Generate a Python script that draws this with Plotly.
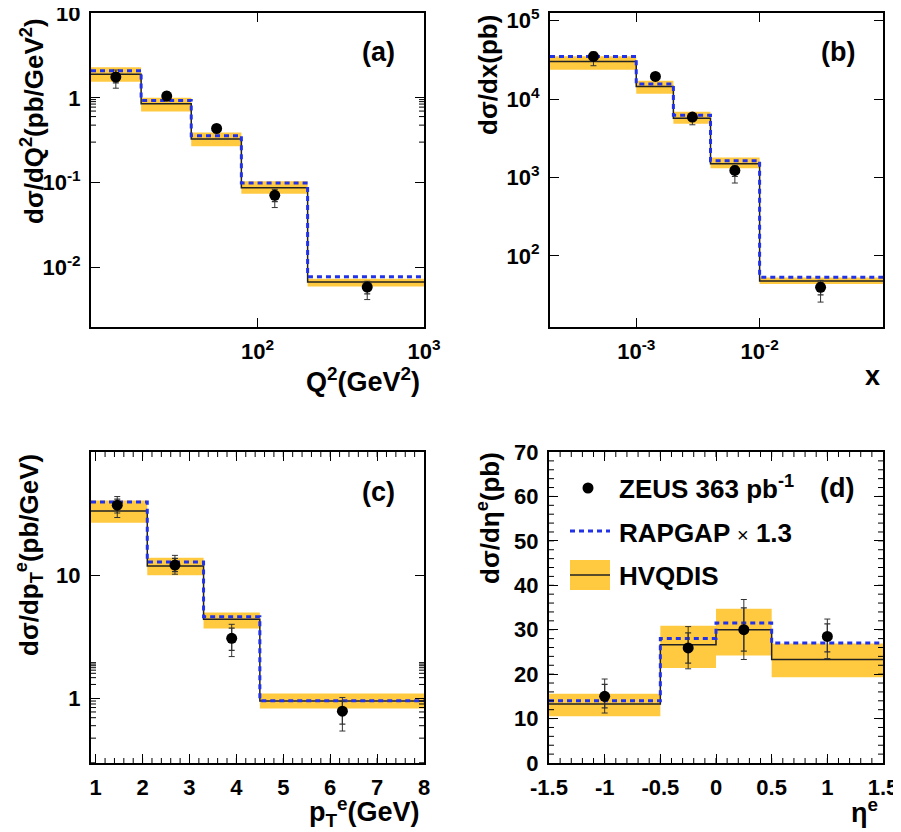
import math
import plotly.graph_objects as go

# page is 901x832; the HTML body has an 8px default margin, so the figure starts at (8, 8)
OFF = 8
FW, FH = 901 - OFF, 832 - OFF
FONT = "Liberation Sans, Arial, sans-serif"
BAND = "#FFC940"
BLUE = "#2232E6"

# ---------------- data ----------------
# (a) d sigma / dQ^2
a_edges = [10, 20, 40, 80, 200, 1000]
a_x = [14.1, 28.5, 56.8, 127, 456]
a_y = [1.76, 1.05, 0.436, 0.071, 0.0059]
a_tot_up = [0.37, 0.13, 0.05, 0.0126, 0.0010]
a_tot_dn = [0.46, 0.13, 0.05, 0.020, 0.0017]
a_stat_up = [0.22, 0.08, 0.03, 0.008, 0.0007]
a_stat_dn = [0.26, 0.08, 0.03, 0.011, 0.0010]
a_hvq = [1.9, 0.85, 0.327, 0.0873, 0.00678]
a_hvq_lo = [1.55, 0.69, 0.27, 0.074, 0.0060]
a_hvq_hi = [2.3, 1.0, 0.39, 0.104, 0.0074]
a_rap = [2.09, 0.93, 0.358, 0.099, 0.0078]

# (b) d sigma / dx
b_edges = [2e-4, 1e-3, 2e-3, 4e-3, 1e-2, 0.1]
b_x = [4.5e-4, 1.43e-3, 2.85e-3, 6.3e-3, 0.0312]
b_y = [3.49e4, 1.94e4, 5.9e3, 1.23e3, 39.8]
b_tot_up = [5100, 1500, 600, 180, 9]
b_tot_dn = [8300, 1500, 1200, 380, 14]
b_stat_up = [3000, 900, 350, 110, 6]
b_stat_dn = [4500, 900, 600, 200, 8]
b_hvq = [3.02e4, 1.45e4, 5.7e3, 1.5e3, 48]
b_hvq_lo = [2.36e4, 1.17e4, 4.84e3, 1.31e3, 44]
b_hvq_hi = [3.5e4, 1.71e4, 6.9e3, 1.8e3, 53]
b_rap = [3.49e4, 1.55e4, 6.2e3, 1.63e3, 53.6]

# (c) d sigma / dpT^e
c_edges = [0.9, 2.1, 3.3, 4.5, 8.0]
c_x = [1.46, 2.69, 3.9, 6.26]
c_y = [37.0, 12.1, 3.08, 0.79]
c_tot_up = [6.5, 2.4, 0.92, 0.23]
c_tot_dn = [7.6, 1.9, 0.89, 0.245]
c_stat_up = [4.5, 1.6, 0.65, 0.16]
c_stat_dn = [5.0, 1.4, 0.62, 0.17]
c_hvq = [33.2, 11.9, 4.4, 0.957]
c_hvq_lo = [26.7, 10.0, 3.7, 0.83]
c_hvq_hi = [40.5, 13.9, 4.98, 1.1]
c_rap = [39.3, 12.8, 4.6, 0.96]

# (d) d sigma / d eta^e
d_edges = [-1.5, -0.5, 0.0, 0.5, 1.5]
d_x = [-1.0, -0.25, 0.25, 1.0]
d_y = [15.0, 25.9, 30.0, 28.5]
d_tot_up = [3.9, 4.8, 6.8, 3.9]
d_tot_dn = [3.75, 4.7, 6.7, 5.0]
d_stat_up = [2.7, 3.4, 4.9, 2.8]
d_stat_dn = [2.6, 3.4, 4.8, 3.5]
d_hvq = [13.3, 26.6, 30.0, 23.3]
d_hvq_lo = [10.5, 21.4, 24.2, 19.3]
d_hvq_hi = [15.6, 30.9, 34.7, 26.9]
d_rap = [14.0, 28.0, 31.5, 27.0]

# ---------------- helpers (page pixel -> paper fraction) ----------------
def fx(px):
    return (px - OFF) / FW

def fy(py):
    return 1 - (py - OFF) / FH

fig = go.Figure()

panels = [
    dict(edges=a_edges, x=a_x, y=a_y, tu=a_tot_up, td=a_tot_dn, su=a_stat_up, sd=a_stat_dn,
         hvq=a_hvq, lo=a_hvq_lo, hi=a_hvq_hi, rap=a_rap, xa="x", ya="y"),
    dict(edges=b_edges, x=b_x, y=b_y, tu=b_tot_up, td=b_tot_dn, su=b_stat_up, sd=b_stat_dn,
         hvq=b_hvq, lo=b_hvq_lo, hi=b_hvq_hi, rap=b_rap, xa="x2", ya="y2"),
    dict(edges=c_edges, x=c_x, y=c_y, tu=c_tot_up, td=c_tot_dn, su=c_stat_up, sd=c_stat_dn,
         hvq=c_hvq, lo=c_hvq_lo, hi=c_hvq_hi, rap=c_rap, xa="x3", ya="y3"),
    dict(edges=d_edges, x=d_x, y=d_y, tu=d_tot_up, td=d_tot_dn, su=d_stat_up, sd=d_stat_dn,
         hvq=d_hvq, lo=d_hvq_lo, hi=d_hvq_hi, rap=d_rap, xa="x4", ya="y4"),
]

for p in panels:
    e = p["edges"]
    bx, by = [], []
    for i in range(len(e) - 1):
        bx += [e[i], e[i + 1], e[i + 1], e[i], e[i], None]
        by += [p["lo"][i], p["lo"][i], p["hi"][i], p["hi"][i], p["lo"][i], None]
    fig.add_trace(go.Scatter(x=bx, y=by, mode="lines", fill="toself", fillcolor=BAND,
                             line=dict(width=0, color=BAND), xaxis=p["xa"], yaxis=p["ya"],
                             hoverinfo="skip"))
    fig.add_trace(go.Scatter(x=list(e), y=list(p["hvq"]) + [p["hvq"][-1]], mode="lines",
                             line=dict(shape="hv", color="#222222", width=1.5),
                             xaxis=p["xa"], yaxis=p["ya"]))
    fig.add_trace(go.Scatter(x=list(e), y=list(p["rap"]) + [p["rap"][-1]], mode="lines",
                             line=dict(shape="hv", color=BLUE, width=3, dash="5px,4px"),
                             xaxis=p["xa"], yaxis=p["ya"]))
    fig.add_trace(go.Scatter(x=p["x"], y=p["y"], mode="markers",
                             marker=dict(size=0.1, color="rgba(0,0,0,0)"),
                             error_y=dict(type="data", symmetric=False, array=p["tu"],
                                          arrayminus=p["td"], color="#333333", thickness=1, width=3),
                             xaxis=p["xa"], yaxis=p["ya"]))
    fig.add_trace(go.Scatter(x=p["x"], y=p["y"], mode="markers",
                             marker=dict(size=11, color="black"),
                             error_y=dict(type="data", symmetric=False, array=p["su"],
                                          arrayminus=p["sd"], color="#333333", thickness=1.2, width=3),
                             xaxis=p["xa"], yaxis=p["ya"]))

# ---------------- axes ----------------
TICKFONT = dict(family=FONT, size=22, color="black", weight="bold")


def log_minor(lo_dec, hi_dec):
    out = []
    for d in range(lo_dec, hi_dec + 1):
        for m in range(2, 10):
            out.append(m * 10 ** d)
    return out


def lin_minor(start, stop, step):
    out = []
    v = start
    while v <= stop + 1e-9:
        out.append(round(v, 6))
        v += step
    return out


def axis(domain, anchor, **kw):
    base = dict(domain=domain, anchor=anchor, showline=True, linewidth=2, linecolor="black",
                mirror="allticks", ticks="inside", ticklen=9, tickwidth=1, tickcolor="black",
                showgrid=False, zeroline=False, tickfont=TICKFONT, ticklabelstandoff=4,
                automargin=False, ticklabeloverflow="allow")
    base.update(kw)
    return base


# plot frames in page pixels: (left, right, top, bottom)
frames = {
    "a": (91, 424, 13, 327),
    "b": (550, 883, 13, 327),
    "c": (91, 424, 452, 763),
    "d": (549, 883, 452, 763),
}


def dom(k):
    x0, x1, y0, y1 = frames[k]
    return [fx(x0), fx(x1)], [fy(y1), fy(y0)]


xa, ya = dom("a")
xb, yb = dom("b")
xc, yc = dom("c")
xd, yd = dom("d")

rng = dict(
    xa=[1.0, 3.0], ya=[-2.7, 1.0001],
    xb=[-3.699, -1.0], yb=[1.094, 5.097],
    xc=[0.9, 8.0], yc=[-0.523, 2.0],
    xd=[-1.5, 1.5], yd=[0, 70],
)

fig.update_layout(
    xaxis=axis(xa, "y", type="log", range=rng["xa"], tickmode="array",
               tickvals=[100, 1000], ticktext=["10<sup>2</sup>", "10<sup>3</sup>"]),
    yaxis=axis(ya, "x", type="log", range=rng["ya"], tickmode="array",
               tickvals=[0.01, 0.1, 1, 10], ticktext=["10<sup>-2</sup>", "10<sup>-1</sup>", "1", "10"]),
    xaxis2=axis(xb, "y2", type="log", range=rng["xb"], tickmode="array",
                tickvals=[1e-3, 1e-2], ticktext=["10<sup>-3</sup>", "10<sup>-2</sup>"]),
    yaxis2=axis(yb, "x2", type="log", range=rng["yb"], tickmode="array",
                tickvals=[1e2, 1e3, 1e4, 1e5],
                ticktext=["10<sup>2</sup>", "10<sup>3</sup>", "10<sup>4</sup>", "10<sup>5</sup>"]),
    xaxis3=axis(xc, "y3", range=rng["xc"], tickmode="array", tickvals=[1, 2, 3, 4, 5, 6, 7, 8]),
    yaxis3=axis(yc, "x3", type="log", range=rng["yc"], tickmode="array",
                tickvals=[1, 10], ticktext=["1", "10"]),
    xaxis4=axis(xd, "y4", range=rng["xd"], tickmode="array",
                tickvals=[-1.5, -1, -0.5, 0, 0.5, 1, 1.5],
                ticktext=["-1.5", "-1", "-0.5", "0", "0.5", "1", "1.5"]),
    yaxis4=axis(yd, "x4", range=rng["yd"], tickmode="array", tickvals=[0, 10, 20, 30, 40, 50, 60, 70]),
)

# ---------------- minor ticks (short inside ticks on all four sides) ----------------
shapes = []
MINLEN = 5
minor_specs = [
    ("a", "x", "y", log_minor(1, 2), True, log_minor(-3, 0), True),
    ("b", "x2", "y2", log_minor(-4, -2), True, log_minor(1, 5), True),
    ("c", "x3", "y3", lin_minor(1.2, 7.8, 0.2), False, log_minor(-1, 1), True),
    ("d", "x4", "y4", lin_minor(-1.4, 1.4, 0.1), False, lin_minor(2, 68, 2), False),
]
for key, xn, yn, xm, xlog, ym, ylog in minor_specs:
    x0p, x1p, y0p, y1p = frames[key]
    fw, fh = x1p - x0p, y1p - y0p
    xr, yr = rng["x" + key], rng["y" + key]
    for v in xm:
        pos = math.log10(v) if xlog else v
        if not (xr[0] < pos < xr[1]):
            continue
        for (s0, s1) in [(0, MINLEN / fh), (1 - MINLEN / fh, 1)]:
            shapes.append(dict(type="line", xref=xn, yref=yn + " domain", x0=pos, x1=pos,
                               y0=s0, y1=s1, line=dict(color="black", width=1)))
    for v in ym:
        pos = math.log10(v) if ylog else v
        if not (yr[0] < pos < yr[1]):
            continue
        for (s0, s1) in [(0, MINLEN / fw), (1 - MINLEN / fw, 1)]:
            shapes.append(dict(type="line", xref=xn + " domain", yref=yn, x0=s0, x1=s1,
                               y0=pos, y1=pos, line=dict(color="black", width=1)))

# ---------------- text ----------------
ann = []


def text(px, py, s, size=27, xanchor="center", yanchor="middle", angle=0):
    ann.append(dict(x=fx(px), y=fy(py), xref="paper", yref="paper", text=s, showarrow=False,
                    xanchor=xanchor, yanchor=yanchor, textangle=angle,
                    font=dict(family=FONT, size=size, color="black", weight="bold")))


# axis titles
text(32, 121, "dσ/dQ<sup>2</sup>(pb/GeV<sup>2</sup>)", size=26, angle=-90)
text(488, 75, "dσ/dx(pb)", size=26, angle=-90)
text(29, 555, "dσ/dp<sub>T</sub><sup>e</sup>(pb/GeV)", size=26, angle=-90)
text(489, 518, "dσ/dη<sup>e</sup>(pb)", size=26, angle=-90)
text(422, 380, "Q<sup>2</sup>(GeV<sup>2</sup>)", xanchor="right")
text(882, 376, "x", xanchor="right")
text(422, 812, "p<sub>T</sub><sup>e</sup>(GeV)", xanchor="right")
text(880, 811, "η<sup>e</sup>", xanchor="right")

# panel labels
text(378, 52, "(a)")
text(838, 52, "(b)")
text(378, 492, "(c)")
text(837, 488, "(d)")

# legend
text(617, 488, "ZEUS 363 pb<sup>-1</sup>", size=26, xanchor="left")
text(617, 533, "RAPGAP <span style='font-size:20px;font-weight:normal'>×</span> 1.3", size=26, xanchor="left")
text(617, 576, "HVQDIS", size=26, xanchor="left")

shapes += [
    dict(type="rect", xref="paper", yref="paper", x0=fx(570), x1=fx(610), y0=fy(590), y1=fy(560),
         fillcolor=BAND, line=dict(width=0), layer="above"),
    dict(type="line", xref="paper", yref="paper", x0=fx(570), x1=fx(610), y0=fy(575), y1=fy(575),
         line=dict(color="#222222", width=1.5), layer="above"),
    dict(type="line", xref="paper", yref="paper", x0=fx(570), x1=fx(610), y0=fy(531), y1=fy(531),
         line=dict(color=BLUE, width=3, dash="5px,4px"), layer="above"),
    dict(type="circle", xref="paper", yref="paper", x0=fx(582.5), x1=fx(593.5), y0=fy(493.5),
         y1=fy(482.5), fillcolor="black", line=dict(width=0), layer="above"),
]

fig.update_layout(
    width=FW, height=FH, margin=dict(l=0, r=0, t=0, b=0, pad=0, autoexpand=False),
    paper_bgcolor="white", plot_bgcolor="white", showlegend=False,
    annotations=ann, shapes=shapes,
)

fig.write_html("out.html")
